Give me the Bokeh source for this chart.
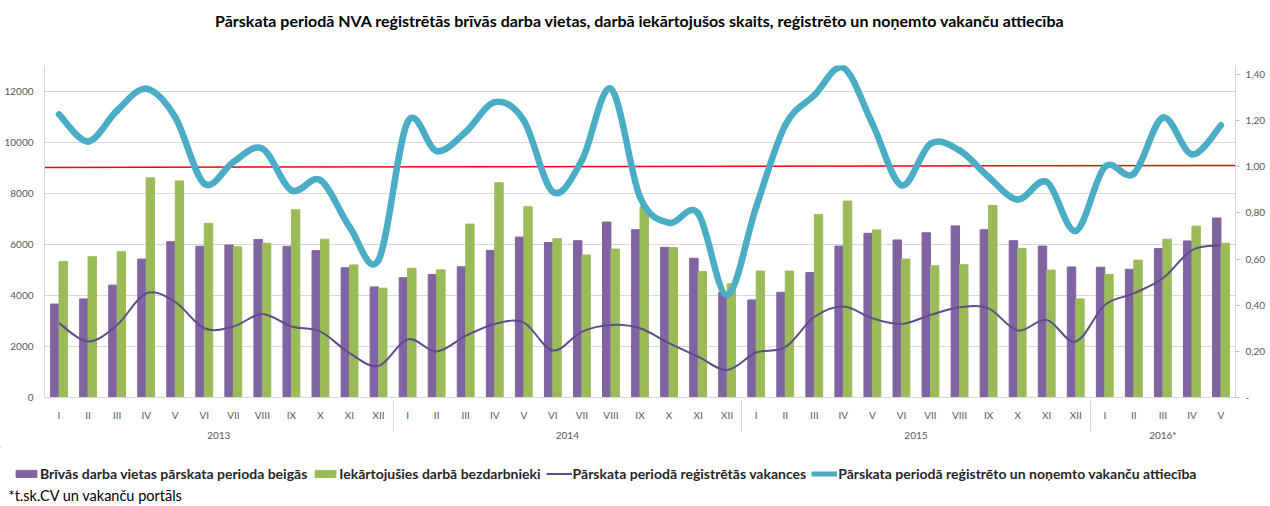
from bokeh.plotting import figure
from bokeh.layouts import column
from bokeh.models import (FactorRange, Range1d, LinearAxis, FixedTicker, Legend,
                          LegendItem, Label, Title)
from bokeh.embed import file_html
from bokeh.resources import INLINE

years = ["2013", "2014", "2015", "2016*"]
months_full = ["I", "II", "III", "IV", "V", "VI", "VII", "VIII", "IX", "X", "XI", "XII"]
months_2016 = ["I", "II", "III", "IV", "V"]

# Brīvās darba vietas pārskata perioda beigās
vacancies_end = [3660, 3860, 4400, 5420, 6100, 5920, 5970, 6190, 5920, 5750, 5080, 4330,
                 4690, 4820, 5120, 5760, 6280, 6070, 6140, 6870, 6570, 5880, 5450, 4120,
                 3820, 4120, 4890, 5930, 6430, 6170, 6450, 6720, 6570, 6140, 5930, 5110,
                 5100, 5020, 5830, 6130, 7030]
# Iekārtojušies darbā bezdarbnieki
employed = [5320, 5510, 5710, 8600, 8480, 6820, 5900, 6040, 7350, 6200, 5190, 4280,
            5060, 5000, 6790, 8410, 7470, 6220, 5580, 5810, 7470, 5870, 4930, 4450,
            4950, 4950, 7170, 7690, 6560, 5420, 5160, 5200, 7520, 5840, 4990, 3860,
            4820, 5380, 6200, 6710, 6040]
# Pārskata periodā reģistrētās vakances
registered = [2910, 2190, 2840, 4080, 3740, 2710, 2780, 3270, 2780, 2580, 1740, 1240,
              2280, 1800, 2410, 2880, 2930, 1840, 2580, 2840, 2710, 2130, 1600, 1080,
              1760, 1970, 3150, 3560, 3100, 2880, 3230, 3530, 3490, 2620, 3040, 2190,
              3620, 4080, 4670, 5770, 5970]
# Pārskata periodā reģistrēto un noņemto vakanču attiecība
ratio = [1.227, 1.110, 1.244, 1.338, 1.215, 0.927, 1.021, 1.079, 0.898, 0.942, 0.740, 0.596,
         1.194, 1.068, 1.151, 1.280, 1.201, 0.891, 1.028, 1.338, 0.869, 0.757, 0.798, 0.444,
         0.826, 1.180, 1.310, 1.429, 1.187, 0.920, 1.100, 1.071, 0.956, 0.858, 0.934, 0.722,
         0.999, 0.970, 1.213, 1.054, 1.180]
ref_line = [0.997, 1.006]

left_ticks = [0, 2000, 4000, 6000, 8000, 10000, 12000]
right_ticks = [0, 0.2, 0.4, 0.6, 0.8, 1.0, 1.2, 1.4]
right_labels = ["-", "0,20", "0,40", "0,60", "0,80", "1,00", "1,20", "1,40"]

title_text = ("Pārskata periodā NVA reģistrētās brīvās darba vietas, darbā iekārtojušos skaits, "
              "reģistrēto un noņemto vakanču attiecība")
footnote = "*t.sk.CV un vakanču portāls"
legend_labels = ["Brīvās darba vietas pārskata perioda beigās",
                 "Iekārtojušies darbā bezdarbnieki",
                 "Pārskata periodā reģistrētās vakances",
                 "Pārskata periodā reģistrēto un noņemto vakanču attiecība"]
FONT = "Lato"
PURPLE, GREEN, DARK, CYAN = "#8064A2", "#9BBB59", "#5F4B8B", "#4BACC6"

factors = []
for yr, ms in zip(years, [months_full, months_full, months_full, months_2016]):
    for m in ms:
        factors.append((yr, m))
n = len(factors)
xs = [i + 0.5 for i in range(n)]

W = 1268
H_MAIN = 447
H_LEG = 58

p = figure(x_range=FactorRange(*factors, group_padding=0, factor_padding=0, range_padding=0),
           y_range=Range1d(0, 13000), width=W, height=H_MAIN,
           min_border_left=44, min_border_right=W - 1237, min_border_top=65,
           min_border_bottom=H_MAIN - 397,
           output_backend="svg", toolbar_location=None, title=None)
p.extra_y_ranges = {"r": Range1d(0, 1.439)}
p.outline_line_color = None
p.background_fill_color = "white"

# spacer (nearest the frame) then the real title
p.add_layout(Title(text=" ", text_font_size="10px", standoff=18), "above")
p.add_layout(Title(text=title_text, align="center", text_font=FONT, text_font_size="16px",
                   text_font_style="bold", text_color="black", standoff=10), "above")

# axes
xa = p.xaxis[0]
xa.axis_line_color = "#D9D9D9"
xa.major_tick_line_color = None
xa.major_label_standoff = 5
xa.major_label_text_font = FONT
xa.major_label_text_font_size = "10px"
xa.major_label_text_color = "#595959"
xa.group_text_font = FONT
xa.group_text_font_size = "10px"
xa.group_text_color = "#595959"
xa.group_text_font_style = "normal"
xa.separator_line_color = "#D9D9D9"
xa.separator_line_width = 1

ya = p.yaxis[0]
ya.ticker = FixedTicker(ticks=left_ticks)
ya.axis_line_color = "#D9D9D9"
ya.major_tick_line_color = None
ya.minor_tick_line_color = None
ya.major_label_text_font = FONT
ya.major_label_text_font_size = "10px"
ya.major_label_text_color = "#595959"
ya.major_label_standoff = 5

ra = LinearAxis(y_range_name="r", ticker=FixedTicker(ticks=right_ticks),
                major_label_overrides={t: l for t, l in zip(right_ticks, right_labels)})
ra.axis_line_color = "#D9D9D9"
ra.major_tick_line_color = "#BFBFBF"
ra.major_tick_out = 4
ra.major_tick_in = 0
ra.minor_tick_line_color = None
ra.major_label_text_font = FONT
ra.major_label_text_font_size = "10px"
ra.major_label_text_color = "#595959"
ra.major_label_standoff = 6
p.add_layout(ra, "right")

p.xgrid.grid_line_color = None
p.ygrid.ticker = FixedTicker(ticks=left_ticks)
p.ygrid.grid_line_color = "#D9D9D9"

# bars
off = 0.145
bw = 0.29
p.vbar(x=[x - off for x in xs], top=vacancies_end, width=bw, color=PURPLE)
p.vbar(x=[x + off for x in xs], top=employed, width=bw, color=GREEN)

# red reference line
p.line(x=[0, n], y=ref_line, y_range_name="r", line_color="#FF0000", line_width=1.5)


def smooth_segments(px, py):
    """Catmull-Rom style Bezier segments (like Excel smoothed lines)."""
    x0, y0, x1, y1, cx0, cy0, cx1, cy1 = [], [], [], [], [], [], [], []
    m = len(px)
    for i in range(m - 1):
        pxm, pym = (px[i - 1], py[i - 1]) if i > 0 else (px[i], py[i])
        pxp, pyp = (px[i + 2], py[i + 2]) if i + 2 < m else (px[i + 1], py[i + 1])
        x0.append(px[i]); y0.append(py[i])
        x1.append(px[i + 1]); y1.append(py[i + 1])
        cx0.append(px[i] + (px[i + 1] - pxm) / 6.0)
        cy0.append(py[i] + (py[i + 1] - pym) / 6.0)
        cx1.append(px[i + 1] - (pxp - px[i]) / 6.0)
        cy1.append(py[i + 1] - (pyp - py[i]) / 6.0)
    return dict(x0=x0, y0=y0, x1=x1, y1=y1, cx0=cx0, cy0=cy0, cx1=cx1, cy1=cy1)


p.bezier(**smooth_segments(xs, registered), line_color=DARK, line_width=2)
p.bezier(**smooth_segments(xs, ratio), y_range_name="r", line_color=CYAN,
         line_width=6.5, line_cap="round")

# ---- legend + footnote strip ----
q = figure(width=W, height=H_LEG, x_range=Range1d(0, W), y_range=Range1d(H_LEG, 0),
           min_border=0, x_axis_type=None, y_axis_type=None,
           output_backend="svg", toolbar_location=None)
q.outline_line_color = None
q.grid.visible = False
for fig in (p, q):
    try:
        fig.frame_align = False
    except Exception:
        pass

l1 = q.vbar(x=[-50], top=[-50], width=1, color=PURPLE)
l2 = q.vbar(x=[-50], top=[-50], width=1, color=GREEN)
l3 = q.line(x=[-60, -50], y=[-50, -50], line_color=DARK, line_width=2)
l4 = q.line(x=[-60, -50], y=[-50, -50], line_color=CYAN, line_width=5)

legend = Legend(items=[LegendItem(label=t, renderers=[r])
                       for t, r in zip(legend_labels, [l1, l2, l3, l4])],
                orientation="horizontal", location=(13, 23))
legend.label_text_font = FONT
legend.label_text_font_size = "14px"
legend.label_text_font_style = "bold"
legend.label_text_color = "#262626"
legend.glyph_width = 26
legend.glyph_height = 9
legend.label_height = 14
legend.label_standoff = 1
legend.spacing = 5
legend.padding = 0
legend.margin = 0
legend.border_line_color = None
legend.background_fill_alpha = 0
q.add_layout(legend, "center")

q.add_layout(Label(x=8, y=48, text=footnote, text_font=FONT, text_font_size="14.5px",
                   text_color="black", text_baseline="middle"))

layout = column(p, q, spacing=0)
open("out.html", "w").write(file_html(layout, INLINE))
